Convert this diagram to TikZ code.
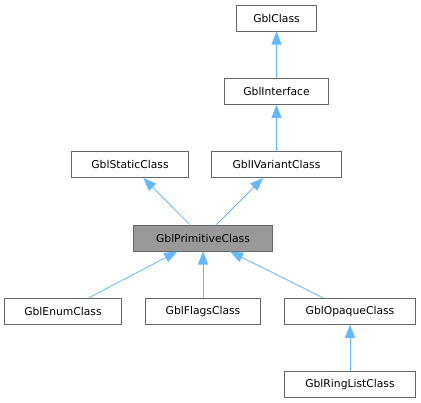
\documentclass[tikz,border=0pt]{standalone}
\usepackage{fontspec}
\setmainfont{DejaVu Sans}
\usetikzlibrary{arrows.meta}
\definecolor{edgeblue}{HTML}{63B8FF}
\definecolor{boxgray}{HTML}{666666}
\definecolor{fillgray}{HTML}{999999}
\begin{document}
\begin{tikzpicture}[x=1bp,y=-1bp,
  cls/.style={draw=boxgray,line width=1bp,fill=white,inner sep=0pt,minimum height=26bp,font=\fontsize{10.8}{12}\selectfont,text=black},
  current/.style={cls,fill=fillgray},
  edge/.style={draw=edgeblue,line width=0.8bp,-{Triangle[length=13bp,width=10bp,fill=edgeblue]}}]
\useasboundingbox (0,0) rectangle (421,403);
\node[cls,minimum width=79bp] (gc) at (276.5,18) {GblClass};
\node[cls,minimum width=103bp] (gi) at (276.5,91.3) {GblInterface};
\node[cls,minimum width=117bp] (gs) at (130,164.5) {GblStaticClass};
\node[cls,minimum width=130bp] (gv) at (276.5,164.5) {GblIVariantClass};
\node[current,minimum width=139bp] (gp) at (203,238) {GblPrimitiveClass};
\node[cls,minimum width=116bp] (ge) at (63,311.3) {GblEnumClass};
\node[cls,minimum width=115bp] (gf) at (203,311.3) {GblFlagsClass};
\node[cls,minimum width=130bp] (go) at (350,311.3) {GblOpaqueClass};
\node[cls,minimum width=131bp] (gr) at (350,384.7) {GblRingListClass};
\draw[edge] (gi) -- (gc);
\draw[edge] (gv) -- (gi);
\draw[edge] (gp) -- (gs);
\draw[edge] (gp) -- (gv);
\draw[edge] (ge) -- (gp);
\draw[edge] (gf) -- (gp);
\draw[edge] (go) -- (gp);
\draw[edge] (gr) -- (go);
\end{tikzpicture}
\end{document}
